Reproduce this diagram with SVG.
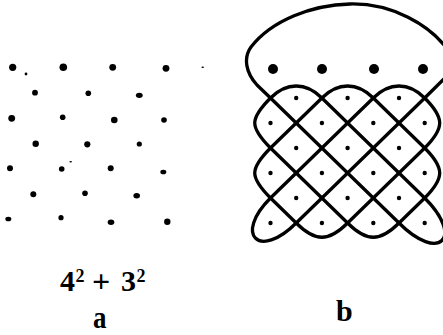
<svg xmlns="http://www.w3.org/2000/svg" width="443" height="335" viewBox="0 0 443 335">
<style>
.ink{fill:#000}
.ln{fill:none;stroke:#000;stroke-width:3.3;stroke-linecap:round;stroke-linejoin:round}
.lbl{font-family:"Liberation Serif","Times New Roman",serif;font-weight:bold;fill:#000}
</style>
<rect width="443" height="335" fill="#fff"/>
<g id="fig-a" class="ink">
<circle cx="12.7" cy="67.3" r="3.6"/><circle cx="63.3" cy="67.3" r="3.8"/><circle cx="112.7" cy="67.3" r="3.4"/><circle cx="166" cy="68.3" r="3.4"/>
<circle cx="26" cy="74" r="1.4"/><ellipse cx="202.7" cy="67.3" rx="1.3" ry="0.8"/>
<circle cx="35" cy="92.7" r="2.9"/><circle cx="88.3" cy="93.3" r="2.8"/><ellipse cx="139.3" cy="95.3" rx="3.4" ry="2.6"/>
<circle cx="11.7" cy="118.3" r="3.4"/><circle cx="62.7" cy="117.3" r="2.8"/><circle cx="114.3" cy="120" r="3.3"/><circle cx="164" cy="120" r="2.8"/>
<circle cx="35.7" cy="143.7" r="3.2"/><circle cx="87.3" cy="144.3" r="3.1"/><circle cx="139.3" cy="144" r="2.6"/>
<circle cx="10" cy="168.3" r="3"/><circle cx="61.7" cy="169" r="2.8"/><circle cx="110.7" cy="168.3" r="3"/><ellipse cx="163.3" cy="172" rx="3" ry="2.3"/>
<ellipse cx="70.7" cy="161.7" rx="1.3" ry="0.8"/>
<circle cx="33.3" cy="194.3" r="3"/><circle cx="85" cy="193.3" r="2.8"/><ellipse cx="136.7" cy="195.7" rx="3.3" ry="2.7"/>
<ellipse cx="8.3" cy="219" rx="3" ry="2.3"/><circle cx="61" cy="217.7" r="2.6"/><ellipse cx="111" cy="222.3" rx="3.3" ry="2.7"/><circle cx="167.3" cy="221.7" r="3.2"/>
</g>
<g id="fig-b">
<g id="connectors" class="ln">
<path d="M270.5,98 L257,85 C246,73 243,58 251,47 C272,20 312,5 350,4 C392,3 430,25 448,50 L452,71 L424.7,98"/>
<path d="M270.5,98 L399,223 M321.9,98 L424.7,198 M373.3,98 L424.7,148 M270.5,148 L347.6,223 M270.5,198 L296.2,223"/>
<path d="M321.9,98 L270.5,148 M373.3,98 L270.5,198 M424.7,98 L296.2,223 M424.7,148 L347.6,223 M424.7,198 L399,223"/>
<path d="M270.5,98 C286.5,82 305.9,82 321.9,98 M321.9,98 C337.9,82 357.3,82 373.3,98 M373.3,98 C389.3,82 408.7,82 424.7,98"/>
<path d="M270.5,98 C249.5,119 249.5,127 270.5,148 M270.5,148 C249.5,169 249.5,177 270.5,198"/>
<path d="M424.7,98 C444.7,118 444.7,128 424.7,148 M424.7,148 C444.7,168 444.7,178 424.7,198"/>
<path d="M296.2,223 C315.2,242 328.6,242 347.6,223 M347.6,223 C366.6,242 380,242 399,223"/>
<path d="M270.5,198 C233.5,235 259.2,260 296.2,223"/>
<path d="M424.7,198 C464.7,238 439,263 399,223"/>
</g>
<g id="big-dots" class="ink">
<circle cx="273" cy="69" r="5"/><circle cx="322" cy="69" r="5"/><circle cx="374" cy="69" r="5"/><circle cx="423" cy="69" r="5"/>
</g>
<g id="small-dots" class="ink">
<circle cx="296.2" cy="98" r="2.2"/><circle cx="347.6" cy="98" r="2.2"/><circle cx="399" cy="98" r="2.2"/>
<circle cx="270.5" cy="123" r="2.2"/><circle cx="321.9" cy="123" r="2.2"/><circle cx="373.3" cy="123" r="2.2"/><circle cx="424.7" cy="123" r="2.2"/>
<circle cx="296.2" cy="148" r="2.2"/><circle cx="347.6" cy="148" r="2.2"/><circle cx="399" cy="148" r="2.2"/>
<circle cx="270.5" cy="173" r="2.2"/><circle cx="321.9" cy="173" r="2.2"/><circle cx="373.3" cy="173" r="2.2"/><circle cx="424.7" cy="173" r="2.2"/>
<circle cx="296.2" cy="198" r="2.2"/><circle cx="347.6" cy="198" r="2.2"/><circle cx="399" cy="198" r="2.2"/>
<circle cx="270.5" cy="223" r="2.2"/><circle cx="321.9" cy="223" r="2.2"/><circle cx="373.3" cy="223" r="2.2"/><circle cx="424.7" cy="223" r="2.2"/>
</g>
</g>
<g id="labels">
<text class="lbl" y="291" font-size="30"><tspan x="60">4</tspan><tspan x="75.5" y="282" font-size="18">2</tspan><tspan x="92" y="292" font-size="32">+</tspan><tspan x="121" y="291">3</tspan><tspan x="136.5" y="282" font-size="18">2</tspan></text>
<text class="lbl" font-size="27" transform="translate(93,327.5) scale(1,1.2)">a</text>
<text class="lbl" x="336" y="321" font-size="30">b</text>
</g>
</svg>
